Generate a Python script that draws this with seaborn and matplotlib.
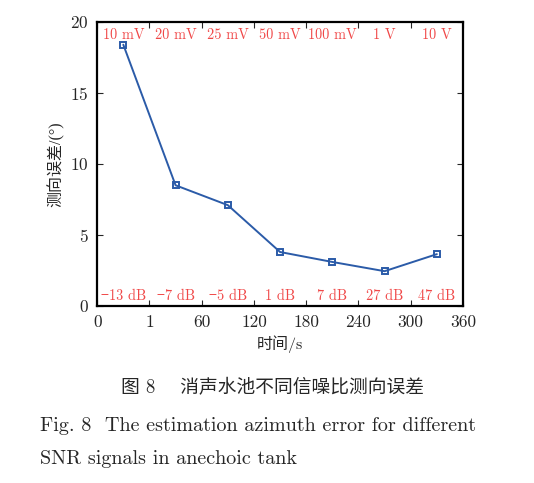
import numpy as np
import pandas as pd
import matplotlib
matplotlib.use("Agg")
import matplotlib.pyplot as plt
import seaborn as sns

# datos
pos = [0.5, 1.5, 2.5, 3.5, 4.5, 5.5, 6.5]
errores = [18.4, 8.5, 7.1, 3.8, 3.1, 2.45, 3.65]
amplitudes = ["10 mV", "20 mV", "25 mV", "50 mV", "100 mV", "1 V", "10 V"]
snr = ["\u221213 dB", "\u22127 dB", "\u22125 dB", "1 dB", "7 dB", "27 dB", "47 dB"]
xticklabels = ["0", "1", "60", "120", "180", "240", "300", "360"]
yticks = [0, 5, 10, 15, 20]

sns.set_style("ticks")
fuente = ["cmr10", "Noto Sans CJK SC", "DejaVu Serif"]
plt.rcParams["font.family"] = fuente
plt.rcParams["axes.unicode_minus"] = False
plt.rcParams["axes.formatter.use_mathtext"] = True

df = pd.DataFrame({"x": pos, "err": errores})

fig = plt.figure(figsize=(5.34, 4.83), dpi=100)
ax = fig.add_axes([0.182, 0.3665, 0.685, 0.588])

sns.lineplot(data=df, x="x", y="err", ax=ax, color="#2b5ba8", linewidth=1.4,
             marker="s", markersize=5, markerfacecolor="none",
             markeredgecolor="#2b5ba8", markeredgewidth=1.4)

rojo = "#f04848"
for x, a, s in zip(pos, amplitudes, snr):
    ax.text(x, 19.05, a, color=rojo, fontsize=10.3, ha="center", va="center")
    ax.text(x, 0.7, s, color=rojo, fontsize=10.3, ha="center", va="center")

ax.set_xlim(0, 7)
ax.set_ylim(0, 20)
ax.set_xticks(np.arange(8))
ax.set_xticklabels(xticklabels)
ax.set_yticks(yticks)
ax.tick_params(direction="in", top=True, right=True, labelsize=12.5, length=4, width=0.8, pad=6)
for sp in ax.spines.values():
    sp.set_linewidth(1.6)
    sp.set_color("black")

ax.set_xlabel("时间/s", fontsize=11.5, labelpad=4)
ax.set_ylabel("测向误差/(°)", fontsize=11.5, labelpad=4,
              family=["Liberation Serif", "Noto Sans CJK SC"])

fig.text(0.51, 0.197, "图 8    消声水池不同信噪比测向误差", ha="center", va="center", fontsize=13.5)
fig.text(0.075, 0.118, "Fig. 8  The estimation azimuth error for different",
         ha="left", va="center", fontsize=14.5)
fig.text(0.075, 0.05, "SNR signals in anechoic tank", ha="left", va="center", fontsize=14.5)

fig.savefig("out.png", dpi=100)
